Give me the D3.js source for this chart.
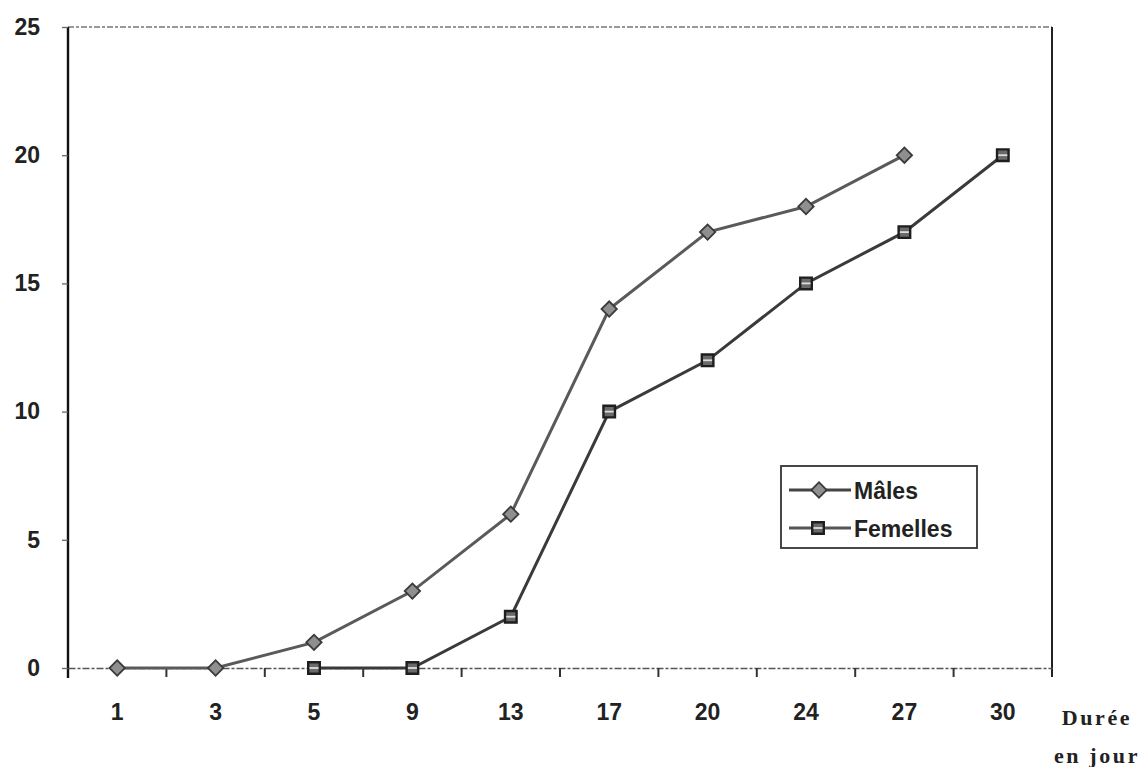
<!DOCTYPE html>
<html>
<head>
<meta charset="utf-8">
<script src="https://cdn.jsdelivr.net/npm/d3@7"></script>
<style>
  html, body { margin: 0; padding: 0; background: #fff; }
  svg { display: block; }
</style>
</head>
<body>
<svg id="chart" width="1144" height="767"></svg>
<script>
// Durée (jours) en catégories
const categories = ["1", "3", "5", "9", "13", "17", "20", "24", "27", "30"];
// Effectifs cumulés
const males    = [0, 0, 1, 3, 6, 14, 17, 18, 20, null];
const femelles = [null, null, 0, 0, 2, 10, 12, 15, 17, 20];
const yTicks = [0, 5, 10, 15, 20, 25];

const svg = d3.select("#chart");
const plotL = 68, plotR = 1052, plotT = 27, plotB = 668;

const x = d3.scaleBand().domain(categories).range([plotL, plotR]);
const y = d3.scaleLinear().domain([0, 25]).range([plotB, plotT]);

// Cadre : haut en pointillés clairs, droite pleine
svg.append("line").attr("x1", plotL).attr("x2", plotR).attr("y1", plotT).attr("y2", plotT)
  .attr("stroke", "#777").attr("stroke-width", 1.5).attr("stroke-dasharray", "6,2,3,2");
svg.append("line").attr("x1", plotR).attr("x2", plotR).attr("y1", plotT).attr("y2", plotB + 9)
  .attr("stroke", "#222").attr("stroke-width", 2);

// Axe Y
const yAxis = svg.append("g").attr("transform", `translate(${plotL},0)`)
  .call(d3.axisLeft(y).tickValues(yTicks).tickSize(6).tickPadding(22));
yAxis.select(".domain").attr("stroke", "#111").attr("stroke-width", 2.4)
  .attr("d", `M0,${plotT}V${plotB + 10}`);
yAxis.selectAll(".tick line").attr("stroke", "#666").attr("stroke-width", 1.3);
yAxis.selectAll(".tick text")
  .attr("font-family", "Liberation Sans, Arial, sans-serif")
  .attr("font-size", 23).attr("font-weight", "bold").attr("fill", "#222");

// Axe X (graduations entre catégories)
const xAxis = svg.append("g").attr("transform", `translate(0,${plotB})`)
  .call(d3.axisBottom(x).tickSize(0).tickPadding(36));
xAxis.select(".domain").attr("stroke", "#555").attr("stroke-width", 1.6)
  .attr("stroke-dasharray", "7,2,3,2");
xAxis.selectAll(".tick text")
  .attr("font-family", "Liberation Sans, Arial, sans-serif")
  .attr("font-size", 23).attr("font-weight", "bold").attr("fill", "#222");
svg.append("g").selectAll("line")
  .data(categories.slice(1))
  .join("line")
  .attr("x1", d => x(d)).attr("x2", d => x(d))
  .attr("y1", plotB).attr("y2", plotB + 9)
  .attr("stroke", "#333").attr("stroke-width", 2);

// Titre de l'axe X
const xt = svg.append("text")
  .attr("font-family", "Liberation Serif, Times New Roman, serif")
  .attr("font-weight", "bold").attr("font-size", 22).attr("fill", "#222")
  .attr("letter-spacing", 2.6).attr("text-anchor", "middle");
xt.append("tspan").attr("x", 1097).attr("y", 725).text("Durée");
xt.append("tspan").attr("x", 1097).attr("y", 763).text("en jour");

const cx = d => x(d) + x.bandwidth() / 2;
const line = d3.line()
  .defined(d => d.v !== null)
  .x(d => cx(d.c)).y(d => y(d.v));

const mData = categories.map((c, i) => ({ c, v: males[i] }));
const fData = categories.map((c, i) => ({ c, v: femelles[i] }));

svg.append("path").datum(mData).attr("d", line)
  .attr("fill", "none").attr("stroke", "#5a5a5a").attr("stroke-width", 3);
svg.append("path").datum(fData).attr("d", line)
  .attr("fill", "none").attr("stroke", "#3a3a3a").attr("stroke-width", 3);

const diamond = d3.symbol().type(d3.symbolSquare2).size(150);
const square = d3.symbol().type(d3.symbolSquare2).size(170);

function drawDiamond(g, px, py) {
  g.append("path").attr("d", diamond()).attr("transform", `translate(${px},${py}) rotate(45)`)
    .attr("fill", "#8f8f8f").attr("stroke", "#3a3a3a").attr("stroke-width", 1.8);
}
function drawSquare(g, px, py) {
  g.append("path").attr("d", square()).attr("transform", `translate(${px},${py})`)
    .attr("fill", "#6a6a6a").attr("stroke", "#1e1e1e").attr("stroke-width", 2.4);
  g.append("line").attr("x1", px - 4.5).attr("x2", px + 4.5).attr("y1", py).attr("y2", py)
    .attr("stroke", "#ddd").attr("stroke-width", 1.8);
}

const mg = svg.append("g");
mData.filter(d => d.v !== null).forEach(d => drawDiamond(mg, cx(d.c), y(d.v)));
const fg = svg.append("g");
fData.filter(d => d.v !== null).forEach(d => drawSquare(fg, cx(d.c), y(d.v)));

// Légende
const lg = svg.append("g");
lg.append("rect").attr("x", 781).attr("y", 466).attr("width", 196).attr("height", 82)
  .attr("fill", "#fff").attr("stroke", "#333").attr("stroke-width", 1.8);
lg.append("line").attr("x1", 789).attr("x2", 851).attr("y1", 490).attr("y2", 490)
  .attr("stroke", "#444").attr("stroke-width", 3);
drawDiamond(lg, 819, 490);
lg.append("line").attr("x1", 789).attr("x2", 851).attr("y1", 528).attr("y2", 528)
  .attr("stroke", "#555").attr("stroke-width", 3);
drawSquare(lg, 818, 528);
lg.selectAll("text").data(["Mâles", "Femelles"]).join("text")
  .attr("x", 854).attr("y", (d, i) => 499 + i * 38)
  .attr("font-family", "Liberation Sans, Arial, sans-serif")
  .attr("font-size", 23).attr("font-weight", "bold").attr("fill", "#222")
  .text(d => d);
</script>
</body>
</html>
